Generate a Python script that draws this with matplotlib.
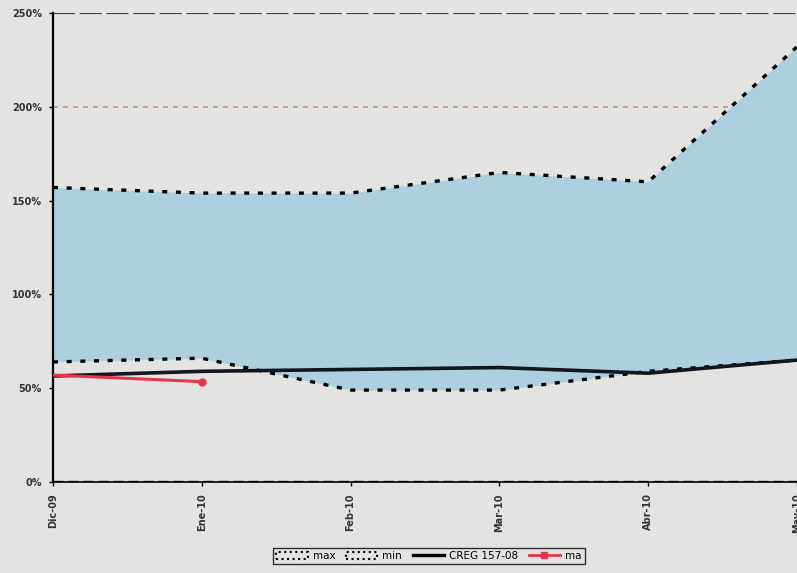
import numpy as np
import matplotlib
matplotlib.use('Agg')
import matplotlib.pyplot as plt
from matplotlib.patches import Patch
from matplotlib.lines import Line2D

###############################################################################

# Monthly series, values in %
months = ['Dic-09', 'Ene-10', 'Feb-10', 'Mar-10', 'Abr-10', 'May-10']
p_max = [157, 154, 154, 165, 160, 232]
p_min = [64, 66, 49, 49, 59, 65]
creg = [56.5, 59, 60, 61, 58, 65]
real_months = ['Dic-09', 'Ene-10']
real = [57, 53.5]
ref_lines = [200, 250]
yticks = [0, 50, 100, 150, 200, 250]

###############################################################################

bg = '#e3e3e1'
fill = '#acd0de'

fig = plt.figure(figsize=(7.97, 5.73), dpi=100, facecolor=bg)
ax = fig.add_axes([53/797., 91/573., 1 - 53/797., (482-13)/573.])
ax.set_facecolor(bg)

x = np.arange(len(months))
xr = np.array([months.index(m) for m in real_months])

# reference levels sit behind the band
ax.plot([x[0], x[-1]], [ref_lines[0]]*2, color='#d98a8a', lw=1.2,
        ls=(0, (3, 3)), zorder=1)
ax.plot([x[0], x[-1]], [ref_lines[1]]*2, color='#7b2b3b', lw=1.6,
        ls=(0, (10, 2)), zorder=1)

ax.fill_between(x, p_min, p_max, color=fill, lw=0, zorder=2)
ax.plot(x, p_max, color='k', lw=2.4, ls=(0, (1.5, 2.6)), zorder=3)
ax.plot(x, p_min, color='k', lw=2.4, ls=(0, (1.5, 2.6)), zorder=3)
ax.plot(x, creg, color='#151520', lw=2.6, zorder=4)
ax.plot(xr, real, color='#e8344a', lw=2.2, marker='o', ms=5,
        markevery=[1], zorder=5)

# zero line
ax.axhline(0, color='k', lw=2.4, ls=(0, (3, 1.5)), zorder=6)

ax.set_xlim(0, 4.96)
ax.set_ylim(0, 250)
ax.set_yticks(yticks)
ax.set_yticklabels(['%d%%' % v for v in yticks], fontsize=7,
                   fontweight='bold', color='#333333')
ax.set_xticks(x)
ax.set_xticklabels(months, rotation=90, fontsize=7, fontweight='bold',
                   color='#333333')
ax.tick_params(axis='both', length=3, width=1, color='k', pad=5)

for s in ['top', 'right']:
    ax.spines[s].set_visible(False)
ax.spines['left'].set_linewidth(1.6)
ax.spines['bottom'].set_linewidth(1.2)

handles = [Patch(facecolor=bg, edgecolor='k', ls=':', lw=1.5, label='max'),
           Patch(facecolor=bg, edgecolor='k', ls=':', lw=1.5, label='min'),
           Line2D([], [], color='k', lw=2.4, label='CREG 157-08'),
           Line2D([], [], color='#e8344a', lw=2, marker='s', ms=4,
                  label='ma')]
leg = fig.legend(handles=handles, loc='center', bbox_to_anchor=(429/797., 1 - 556/573.),
                 ncol=4, fontsize=7.5, frameon=True, fancybox=False,
                 handlelength=3.0, handletextpad=0.5, columnspacing=1.0,
                 borderpad=0.3)
leg.get_frame().set_edgecolor('k')
leg.get_frame().set_facecolor(bg)
leg.get_frame().set_linewidth(1)

fig.savefig('out.png', dpi=100, facecolor=bg)
